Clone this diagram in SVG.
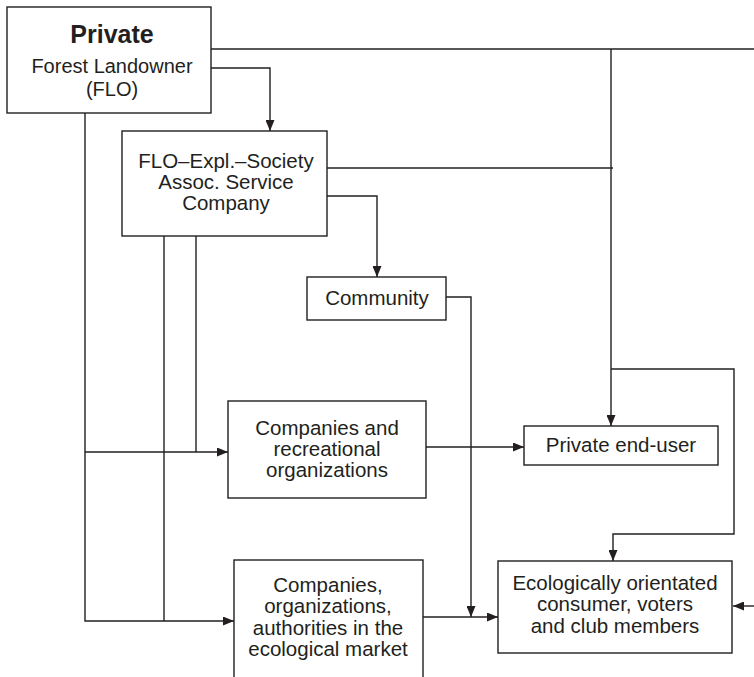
<svg xmlns="http://www.w3.org/2000/svg" width="754" height="677" viewBox="0 0 754 677">
<defs>
<marker id="ah" markerUnits="userSpaceOnUse" markerWidth="11" markerHeight="9" refX="11" refY="4.5" orient="auto">
<path d="M0,0 L11,4.5 L0,9 z" fill="#231f20"/>
</marker>
<style>
.box{fill:#fff;stroke:#231f20;stroke-width:1.4}
.ln{fill:none;stroke:#231f20;stroke-width:1.4}
.ar{fill:none;stroke:#231f20;stroke-width:1.4;marker-end:url(#ah)}
text{font-family:"Liberation Sans",Arial,sans-serif;font-size:20.5px;fill:#231f20;text-anchor:middle}
.b{font-weight:bold;font-size:25px}
.s{font-size:20px}
</style>
</defs>
<rect width="754" height="677" fill="#fff"/>
<g id="connectors">
<polyline class="ln" points="211,49 754,49"/>
<polyline class="ar" points="611,49 611,426"/>
<polyline class="ar" points="211,68 270,68 270,131"/>
<polyline class="ln" points="327,168 613,168"/>
<polyline class="ar" points="327,196 377,196 377,277"/>
<polyline class="ar" points="611,369 734,369 734,534 613,534 613,561"/>
<polyline class="ar" points="446,297 471,297 471,617"/>
<polyline class="ar" points="423,617 498,617"/>
<polyline class="ar" points="426,447 524,447"/>
<polyline class="ar" points="754,606 733,606"/>
<polyline class="ar" points="85,113 85,621 234,621"/>
<polyline class="ln" points="164,236 164,621"/>
<polyline class="ln" points="196,236 196,452"/>
<polyline class="ar" points="85,452 228,452"/>
</g>
<g id="private-flo">
<rect class="box" x="7" y="7" width="204" height="106"/>
<text class="b" x="112" y="43">Private</text>
<text class="s" x="112" y="73">Forest Landowner</text>
<text class="s" x="112" y="96">(FLO)</text>
</g>
<g id="service-company">
<rect class="box" x="122" y="131" width="205" height="105"/>
<text x="226" y="168">FLO–Expl.–Society</text>
<text x="226" y="189">Assoc. Service</text>
<text x="226" y="210">Company</text>
</g>
<g id="community">
<rect class="box" x="307" y="277" width="139" height="43"/>
<text x="377" y="305">Community</text>
</g>
<g id="companies-recreational">
<rect class="box" x="228" y="401" width="198" height="97"/>
<text x="327" y="435">Companies and</text>
<text x="327" y="456">recreational</text>
<text x="327" y="477">organizations</text>
</g>
<g id="private-end-user">
<rect class="box" x="524" y="426" width="194" height="39"/>
<text x="621" y="452">Private end-user</text>
</g>
<g id="companies-ecological">
<rect class="box" x="234" y="560" width="189" height="130"/>
<text x="328" y="592">Companies,</text>
<text x="328" y="613">organizations,</text>
<text x="328" y="635">authorities in the</text>
<text x="328" y="656">ecological market</text>
</g>
<g id="ecological-consumer">
<rect class="box" x="498" y="561" width="234" height="92"/>
<text x="615" y="590">Ecologically orientated</text>
<text x="615" y="611">consumer, voters</text>
<text x="615" y="633">and club members</text>
</g>
</svg>
